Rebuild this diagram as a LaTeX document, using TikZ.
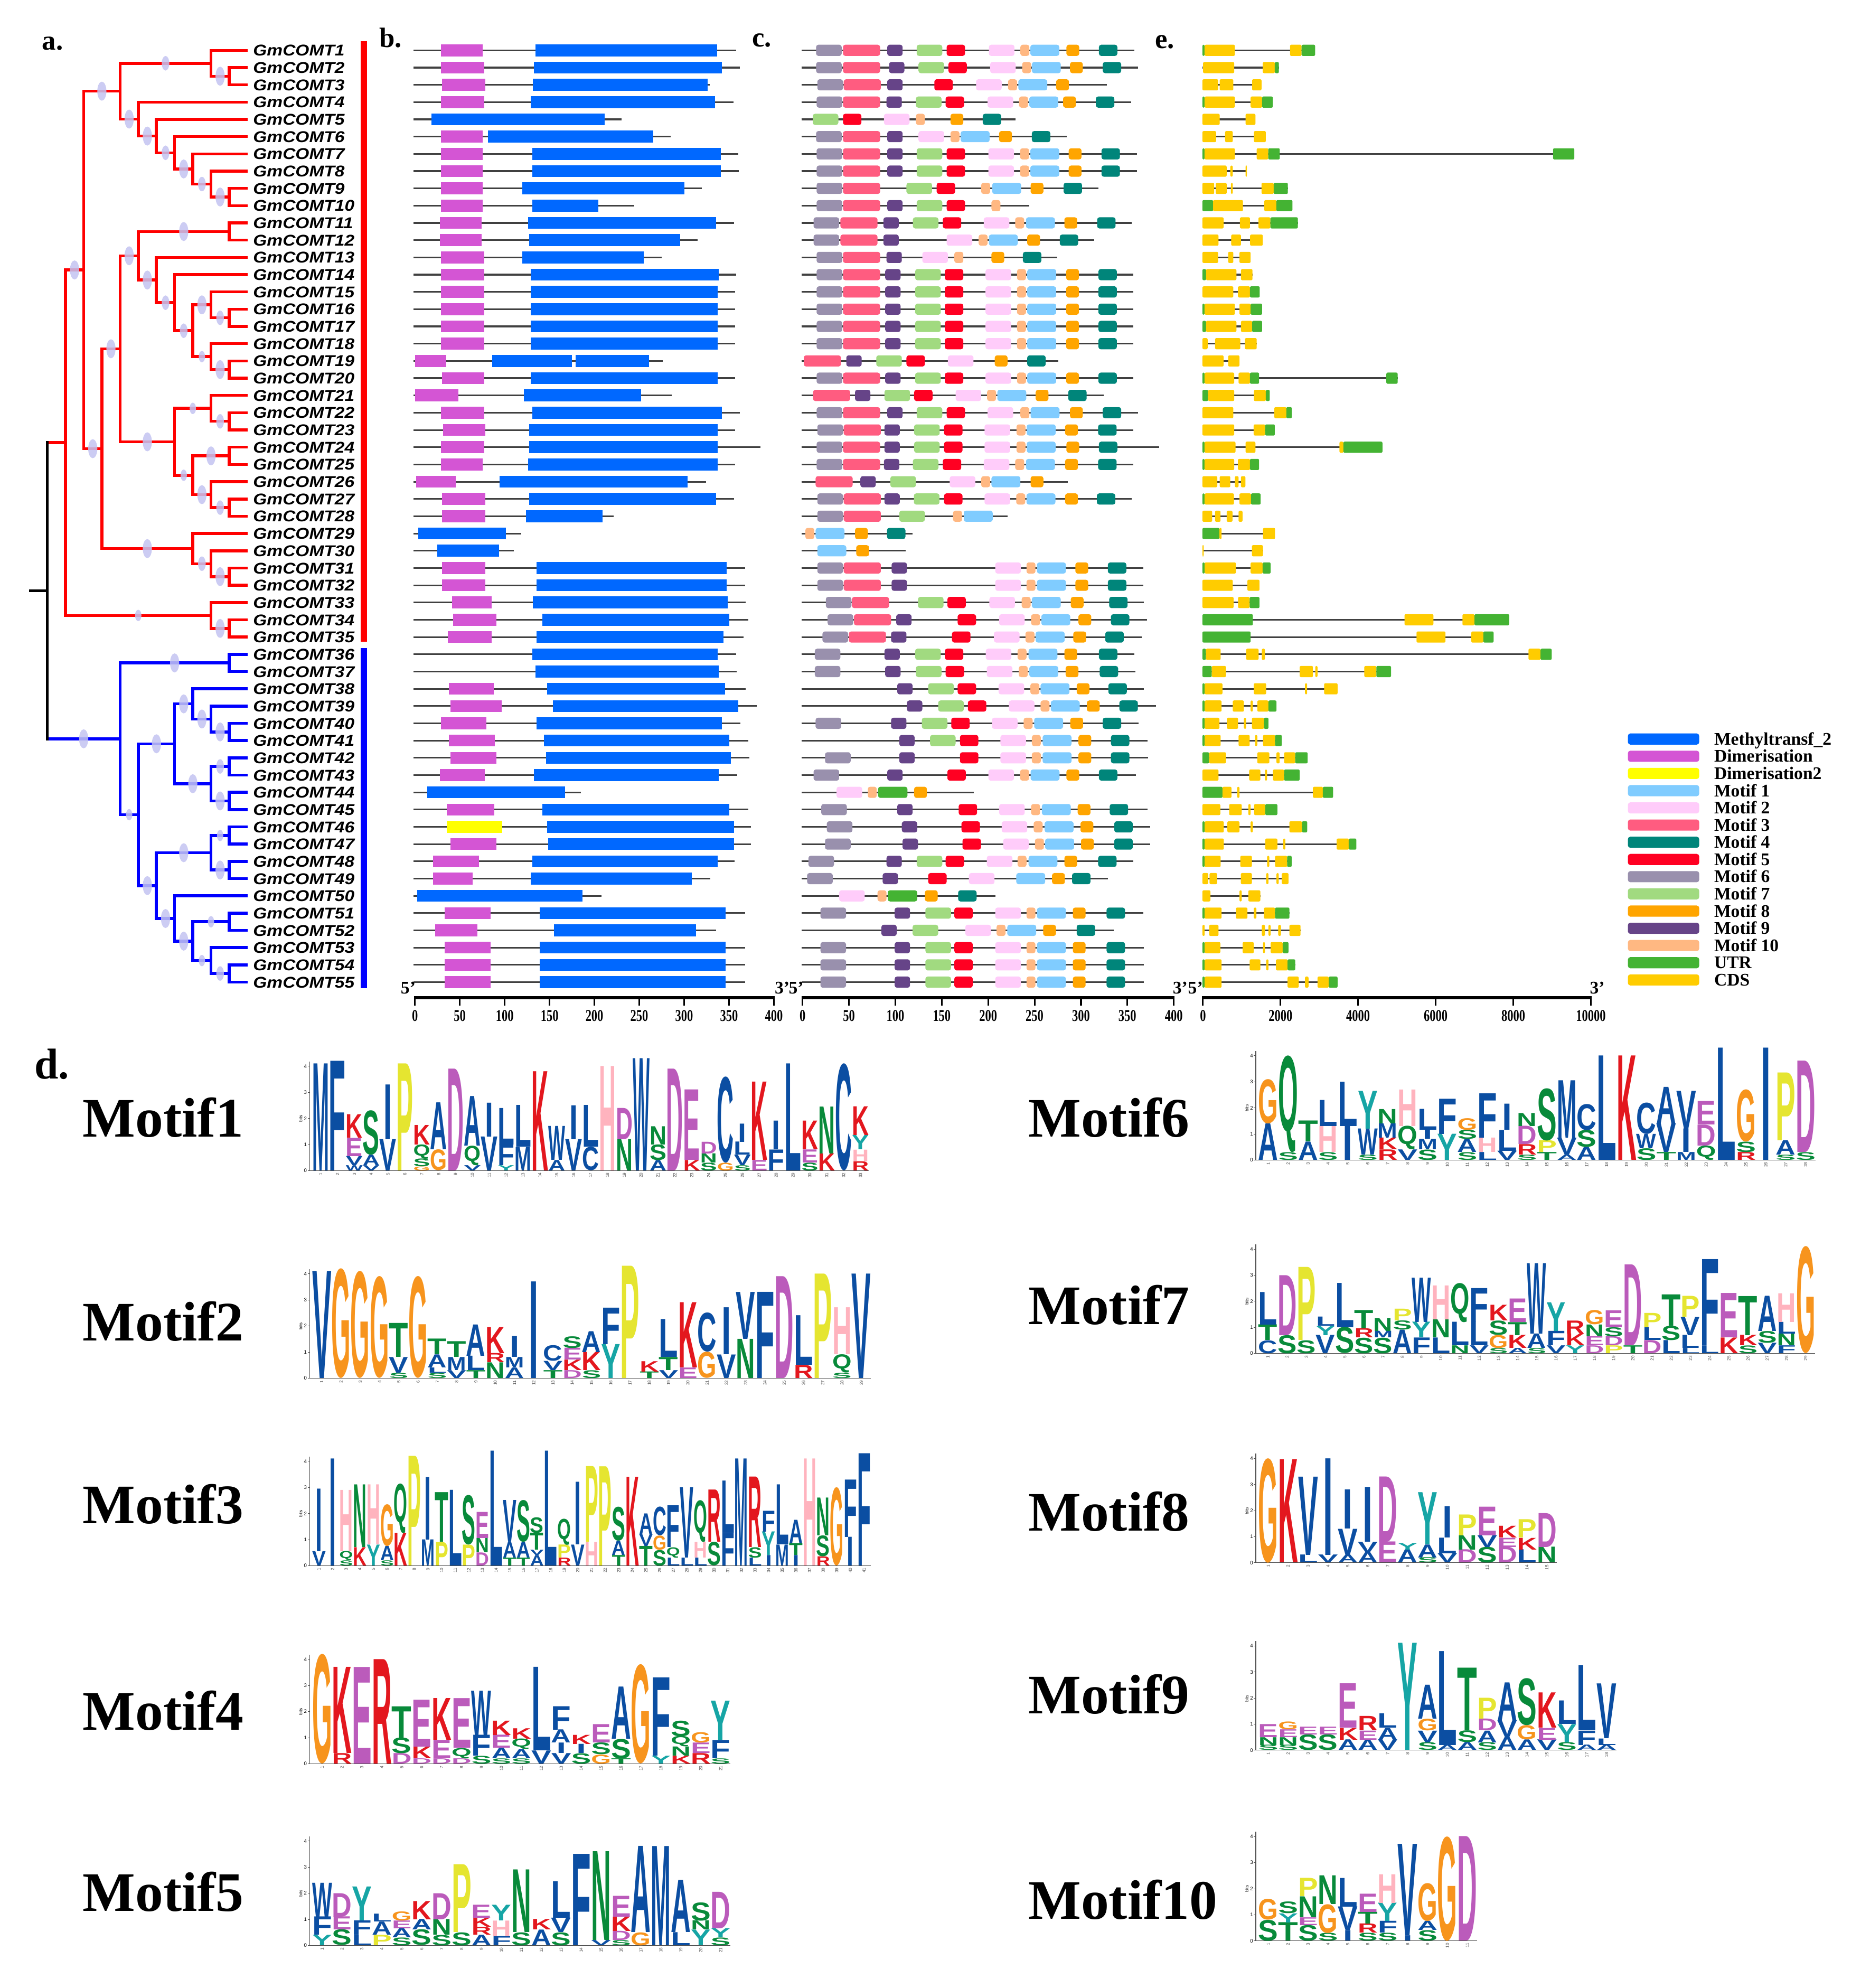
\documentclass[tikz,border=0pt]{standalone}
\usepackage{graphicx}
\usepackage{fontspec}
\setmainfont{Liberation Serif}
\newfontfamily\sansf{Liberation Sans}
\usetikzlibrary{calc,shapes.geometric}
\pgfdeclarelayer{fg}
\pgfsetlayers{main,fg}
\definecolor{mt}{HTML}{0068FF}
\definecolor{dm}{HTML}{D455D4}
\definecolor{dt}{HTML}{FFFF00}
\definecolor{m1}{HTML}{80CCFF}
\definecolor{m2}{HTML}{FFCCFA}
\definecolor{m3}{HTML}{FF5C80}
\definecolor{m4}{HTML}{00857A}
\definecolor{m5}{HTML}{FF0022}
\definecolor{m6}{HTML}{9990AD}
\definecolor{m7}{HTML}{A1DA80}
\definecolor{m8}{HTML}{FFA500}
\definecolor{m9}{HTML}{664488}
\definecolor{m10}{HTML}{FFB882}
\definecolor{dg}{HTML}{44B333}
\definecolor{g}{HTML}{44B333}
\definecolor{c}{HTML}{FFCC00}
\definecolor{lav}{HTML}{C4C4F2}
\definecolor{lgb}{HTML}{0B4EA2}
\definecolor{lgm}{HTML}{BB5BBB}
\definecolor{lgr}{HTML}{E3171E}
\definecolor{lgg}{HTML}{088A3A}
\definecolor{lgo}{HTML}{F7941D}
\definecolor{lgy}{HTML}{E5E530}
\definecolor{lgp}{HTML}{FFB3BE}
\definecolor{lgc}{HTML}{16A5A5}
\colorlet{lgA}{lgb}\colorlet{lgC}{lgb}\colorlet{lgF}{lgb}\colorlet{lgI}{lgb}
\colorlet{lgL}{lgb}\colorlet{lgM}{lgb}\colorlet{lgV}{lgb}\colorlet{lgW}{lgb}
\colorlet{lgD}{lgm}\colorlet{lgE}{lgm}\colorlet{lgK}{lgr}\colorlet{lgR}{lgr}
\colorlet{lgN}{lgg}\colorlet{lgQ}{lgg}\colorlet{lgS}{lgg}\colorlet{lgT}{lgg}
\colorlet{lgG}{lgo}\colorlet{lgP}{lgy}\colorlet{lgH}{lgp}\colorlet{lgY}{lgc}
\def\lwI{0.5}
\expandafter\def\csname mwm1\endcsname{113}
\expandafter\def\csname mwm2\endcsname{100}
\expandafter\def\csname mwm3\endcsname{145}
\expandafter\def\csname mwm4\endcsname{72}
\expandafter\def\csname mwm5\endcsname{72}
\expandafter\def\csname mwm6\endcsname{100}
\expandafter\def\csname mwm7\endcsname{100}
\expandafter\def\csname mwm8\endcsname{50}
\expandafter\def\csname mwm9\endcsname{60}
\expandafter\def\csname mwm10\endcsname{35}
\expandafter\def\csname mwdg\endcsname{115}
\def\brc{red}
\newcommand\tn[6]{%
  \path (#3) -- (#5) coordinate[pos=0.5] (tmpm);
  \coordinate (#1) at (tmpm -| L#2);
  \draw[br,\brc] (#3) -- (#3 -| #1) -- (#5 -| #1) -- (#5);
  \begin{pgfonlayer}{fg}
  \ifnum#4>0\relax\node[bs#4] at ($(#3)!0.5!(#3 -| #1)$) {};\fi
  \ifnum#6>0\relax\node[bs#6] at ($(#5)!0.5!(#5 -| #1)$) {};\fi
  \end{pgfonlayer}
}
\newcommand\brow[3]{%
  \pgfmathsetmacro\yy{39.7+(#1-1)*13.61}
  \draw[bln] (163,\yy) -- (#2,\yy);
  \foreach \bs/\be/\bcl in {#3} {\fill[fill=\bcl] (\bs,\yy-4.7) rectangle (\be,\yy+4.7);}
}
\newcommand\crow[3]{%
  \pgfmathsetmacro\yy{39.7+(#1-1)*13.61}
  \draw[bln] (78,\yy) -- (#2,\yy);
  \foreach \cs/\mo in {#3} {\fill[fill=\mo,rounded corners=1.8pt] (\cs,\yy-4.4) rectangle ({\cs+\csname mw\mo\endcsname},\yy+4.4);}
}
\newcommand\erow[3]{%
  \pgfmathsetmacro\yy{39.7+(#1-1)*13.61}
  \draw[bln] (0,\yy) -- (#2,\yy);
  \foreach \es/\ee/\et in {#3} {\fill[fill=\et,rounded corners=1pt] (\es,\yy-4.4) rectangle (\ee,\yy+4.4);}
}
\newcommand\logo[4]{%
  \foreach \cc [count=\ci from 0] in {#4}{%
    \gdef\cum{0}%
    \foreach \lt/\lh in \cc {%
      \expandafter\ifx\csname lw\lt\endcsname\relax\def\lwf{1}\else\edef\lwf{\csname lw\lt\endcsname}\fi
      \pgfmathsetmacro\yb{#2-\cum*20.57}%
      \pgfmathsetmacro\hh{max(\lh*20.57,0.2)}%
      \pgfmathsetmacro\ww{#3*\lwf}%
      \pgfmathsetmacro\xb{#1+\ci*#3+(1-\lwf)*#3/2}%
      \node[inner sep=0pt,outer sep=0pt,anchor=south west] at (\xb,\yb) {\resizebox*{\ww pt}{\hh pt}{\sansf\bfseries\color{lg\lt}\lt}};%
      \pgfmathsetmacro\tmp{\cum+\lh}\global\let\cum\tmp
    }%
  }%
}
\newcommand\logoax[4]{%
  \draw[line width=0.5pt,black!70] (#1-2,#2) -- (#1-2,#2-86);
  \foreach \b in {0,...,4} {\draw[line width=0.4pt,black!70] (#1-2,#2-\b*20.57) -- ++(-1.5,0);
    \node[font=\sansf\fontsize{4}{4}\selectfont,anchor=east,inner sep=0.4pt] at (#1-3.6,#2-\b*20.57) {\b};}
  \node[rotate=90,font=\sansf\fontsize{3.5}{3.5}\selectfont,inner sep=0pt] at (#1-9,#2-41) {bits};
  \draw[line width=0.4pt,black!70] (#1-2,#2) -- (#1+#4*#3,#2);
  \foreach \j in {1,...,#4} {\node[rotate=90,anchor=east,font=\sansf\fontsize{3.5}{3.5}\selectfont,inner sep=0.3pt,black!70] at ({#1+(\j-0.5)*#3},#2+1.2) {\j};}
}
\begin{document}
\begin{tikzpicture}[x=1pt,y=-1pt,
  br/.style={line width=2.3pt,line join=miter},
  bs1/.style={ellipse,fill=lav,fill opacity=0.85,draw=none,inner sep=0pt,minimum width=5pt,minimum height=9pt},
  bs2/.style={ellipse,fill=lav,fill opacity=0.85,draw=none,inner sep=0pt,minimum width=6pt,minimum height=11.5pt},
  bs3/.style={ellipse,fill=lav,fill opacity=0.85,draw=none,inner sep=0pt,minimum width=7.2pt,minimum height=15pt},
  lab/.style={anchor=base west,inner sep=0pt,font=\sansf\bfseries\itshape\fontsize{12.3}{13}\selectfont},
  bln/.style={line width=1.3pt,black!75},
  pl/.style={anchor=base west,inner sep=0pt,font=\bfseries\fontsize{22}{22}\selectfont},
  ml/.style={anchor=base west,inner sep=0pt,font=\bfseries\fontsize{44}{44}\selectfont},
  tk/.style={inner sep=0pt,font=\bfseries\fontsize{13}{13}\selectfont},
  pe/.style={inner sep=0pt,font=\bfseries\fontsize{14}{14}\selectfont},
  leg/.style={anchor=base west,inner sep=0pt,font=\bfseries\fontsize{14}{14}\selectfont}]
\useasboundingbox (0,0) rectangle (1468,1568);
\fill[white] (0,0) rectangle (1468,1568);
% ---------- panel letters ----------
\node[pl] (la) at (33,39.4) {a.};
\node[pl] (lb) at (299,37.4) {b.};
\node[pl] (lc) at (593,37) {c.};
\node[pl] (le) at (911,38.1) {e.};
\node[anchor=base west,inner sep=0pt,font=\bfseries\fontsize{34}{34}\selectfont] (ld) at (27,851) {d.};
% ---------- tree ----------
\foreach \k in {0,...,11} {\coordinate (L\k) at ({37.3+14.35*\k},0);}
\foreach \i in {1,...,55} {\coordinate (t\i) at (195.2,{39.7+(\i-1)*13.61});
  \node[lab] (g\i) at (199.5,{39.7+(\i-1)*13.61+4.4}) {\scalebox{1.135}[1]{GmCOMT\i}};}
\def\brc{red}
\tn{n23}{10}{t2}{0}{t3}{0}
\tn{nA}{9}{t1}{0}{n23}{3}
\tn{n910}{10}{t9}{0}{t10}{0}
\tn{nG}{9}{t8}{0}{n910}{3}
\tn{nF}{8}{t7}{0}{nG}{2}
\tn{nE}{7}{t6}{0}{nF}{3}
\tn{nD}{6}{t5}{0}{nE}{2}
\tn{nC}{5}{t4}{0}{nD}{3}
\tn{nB}{4}{nA}{2}{nC}{3}
\tn{n1112}{10}{t11}{0}{t12}{0}
\tn{n1617}{10}{t16}{0}{t17}{0}
\tn{nY}{9}{t15}{0}{n1617}{2}
\tn{n1920}{10}{t19}{0}{t20}{0}
\tn{nZ}{9}{t18}{0}{n1920}{3}
\tn{nX}{8}{nY}{3}{nZ}{1}
\tn{nW}{7}{t14}{0}{nX}{2}
\tn{nV}{6}{t13}{0}{nW}{2}
\tn{nS}{5}{n1112}{3}{nV}{3}
\tn{n2223}{10}{t22}{0}{t23}{0}
\tn{nAA}{9}{t21}{0}{n2223}{2}
\tn{n2425}{10}{t24}{0}{t25}{0}
\tn{n2728}{10}{t27}{0}{t28}{0}
\tn{nCC}{9}{t26}{0}{n2728}{2}
\tn{nBB}{8}{n2425}{3}{nCC}{3}
\tn{nU}{7}{nAA}{1}{nBB}{1}
\tn{nQ}{4}{nS}{3}{nU}{3}
\tn{n3132}{10}{t31}{0}{t32}{0}
\tn{nDD}{9}{t30}{0}{n3132}{3}
\tn{nR}{8}{t29}{0}{nDD}{2}
\tn{nP}{3}{nQ}{3}{nR}{3}
\tn{nI}{2}{nB}{3}{nP}{3}
\tn{n3435}{10}{t34}{0}{t35}{0}
\tn{nEE}{9}{t33}{0}{n3435}{3}
\tn{nK}{1}{nI}{3}{nEE}{1}
\def\brc{blue}
\tn{n3637}{10}{t36}{0}{t37}{0}
\tn{n4041}{10}{t40}{0}{t41}{0}
\tn{nKK}{9}{t39}{0}{n4041}{3}
\tn{nII}{8}{t38}{0}{nKK}{3}
\tn{n4243}{10}{t42}{0}{t43}{0}
\tn{n4445}{10}{t44}{0}{t45}{0}
\tn{nJJ}{9}{n4243}{2}{n4445}{3}
\tn{nGG}{7}{nII}{3}{nJJ}{3}
\tn{n4647}{10}{t46}{0}{t47}{0}
\tn{n4849}{10}{t48}{0}{t49}{0}
\tn{nLL}{9}{n4647}{1}{n4849}{3}
\tn{n5152}{10}{t51}{0}{t52}{0}
\tn{n5455}{10}{t54}{0}{t55}{0}
\tn{nPP}{9}{t53}{0}{n5455}{2}
\tn{nNN}{8}{n5152}{1}{nPP}{1}
\tn{nMM}{7}{t50}{0}{nNN}{3}
\tn{nHH}{6}{nLL}{3}{nMM}{3}
\tn{nFF}{5}{nGG}{3}{nHH}{3}
\tn{nBL}{4}{n3637}{3}{nFF}{1}
\path (nK) -- (nBL) coordinate[pos=0.5] (tmpm);
\coordinate (root) at (tmpm -| L0);
\draw[br,red] (nK) -- (nK -| root);
\draw[br,blue] (nBL) -- (nBL -| root);
\draw[br,black,line cap=rect] (nK -| root) -- (nBL -| root);
\draw[br,black] (root) -- ++(-14.5,0);
\begin{pgfonlayer}{fg}\node[bs3] at ($(nBL)!0.5!(nBL -| root)$) {};\end{pgfonlayer}
\draw[red,line width=4.8pt] (287,32.3) -- (287,506);
\draw[blue,line width=4.8pt] (287,511) -- (287,779.5);
% ---------- panel b ----------
\begin{scope}[shift={(291.6,0)},x=0.2125pt]
\brow{1}{1360}{265/420/dm,615/1290/mt}
\brow{2}{1375}{265/425/dm,610/1308/mt}
\brow{3}{1262}{268/430/dm,605/1255/mt}
\brow{4}{1350}{265/425/dm,598/1282/mt}
\brow{5}{935}{230/873/mt}
\brow{6}{1118}{265/420/dm,440/1053/mt}
\brow{7}{1368}{265/420/dm,603/1303/mt}
\brow{8}{1370}{265/420/dm,603/1303/mt}
\brow{9}{1233}{265/420/dm,567/1168/mt}
\brow{10}{982}{265/420/dm,603/848/mt}
\brow{11}{1352}{260/415/dm,588/1287/mt}
\brow{12}{1218}{260/415/dm,593/1153/mt}
\brow{13}{1085}{265/425/dm,567/1018/mt}
\brow{14}{1360}{265/425/dm,598/1295/mt}
\brow{15}{1357}{265/425/dm,598/1292/mt}
\brow{16}{1357}{265/425/dm,598/1292/mt}
\brow{17}{1357}{265/425/dm,598/1292/mt}
\brow{18}{1357}{265/425/dm,598/1292/mt}
\brow{19}{1088}{168/285/dm,455/750/mt,765/1037/mt}
\brow{20}{1357}{268/425/dm,598/1292/mt}
\brow{21}{1122}{168/330/dm,572/1008/mt}
\brow{22}{1375}{265/425/dm,603/1308/mt}
\brow{23}{1357}{272/430/dm,593/1292/mt}
\brow{24}{1450}{265/425/dm,593/1292/mt}
\brow{25}{1357}{265/420/dm,588/1292/mt}
\brow{26}{1248}{172/320/dm,483/1180/mt}
\brow{27}{1352}{268/430/dm,593/1287/mt}
\brow{28}{905}{268/430/dm,580/865/mt}
\brow{29}{563}{180/505/mt}
\brow{30}{535}{250/480/mt}
\brow{31}{1393}{268/430/dm,620/1325/mt}
\brow{32}{1393}{268/430/dm,620/1325/mt}
\brow{33}{1395}{305/453/dm,605/1330/mt}
\brow{34}{1405}{310/470/dm,642/1335/mt}
\brow{35}{1388}{290/453/dm,620/1313/mt}
\brow{36}{1360}{603/1292/mt}
\brow{37}{1362}{615/1295/mt}
\brow{38}{1395}{295/460/dm,658/1320/mt}
\brow{39}{1437}{300/490/dm,680/1368/mt}
\brow{40}{1377}{265/433/dm,620/1308/mt}
\brow{41}{1405}{295/465/dm,647/1335/mt}
\brow{42}{1410}{300/470/dm,655/1340/mt}
\brow{43}{1365}{260/427/dm,610/1295/mt}
\brow{44}{785}{213/725/mt}
\brow{45}{1405}{287/462/dm,642/1335/mt}
\brow{46}{1415}{287/492/dt,658/1352/mt}
\brow{47}{1415}{300/470/dm,662/1352/mt}
\brow{48}{1355}{235/405/dm,603/1292/mt}
\brow{49}{1265}{235/383/dm,598/1195/mt}
\brow{50}{860}{177/790/mt}
\brow{51}{1393}{278/448/dm,632/1322/mt}
\brow{52}{1287}{243/400/dm,685/1212/mt}
\brow{53}{1393}{278/448/dm,632/1322/mt}
\brow{54}{1393}{278/448/dm,632/1322/mt}
\brow{55}{1393}{278/448/dm,632/1322/mt}
\end{scope}
% ---------- panel c ----------
\begin{scope}[shift={(616.5,0)},x=0.2019pt]
\crow{1}{1378}{135/m6,240/m3,413/m9,528/m7,645/m5,810/m2,933/m10,972/m1,1113/m8,1240/m4}
\crow{2}{1392}{135/m6,240/m3,420/m9,535/m7,652/m5,815/m2,940/m10,978/m1,1127/m8,1255/m4}
\crow{3}{1272}{140/m6,243/m3,413/m9,597/m5,760/m2,885/m10,925/m1,1073/m8}
\crow{4}{1365}{137/m6,240/m3,410/m9,525/m7,641/m5,805/m2,928/m10,968/m1,1100/m8,1228/m4}
\crow{5}{915}{122/m7,240/m5,400/m2,525/m10,660/m8,786/m4}
\crow{6}{1115}{135/m6,240/m3,413/m9,535/m2,660/m10,700/m1,850/m8,978/m4}
\crow{7}{1388}{137/m6,240/m3,413/m9,528/m7,645/m5,808/m2,932/m10,972/m1,1122/m8,1250/m4}
\crow{8}{1388}{137/m6,240/m3,413/m9,528/m7,645/m5,808/m2,932/m10,972/m1,1122/m8,1250/m4}
\crow{9}{1238}{137/m6,240/m3,488/m7,606/m5,780/m10,823/m1,973/m8,1102/m4}
\crow{10}{968}{137/m6,240/m3,413/m9,528/m7,645/m5,820/m10}
\crow{11}{1368}{125/m6,230/m3,398/m9,513/m7,630/m5,790/m2,913/m10,955/m1,1105/m8,1233/m4}
\crow{12}{1222}{125/m6,230/m3,398/m9,645/m2,770/m10,810/m1,960/m8,1087/m4}
\crow{13}{1078}{137/m6,240/m3,410/m9,550/m2,675/m10,820/m8,943/m4}
\crow{14}{1375}{137/m6,240/m3,405/m9,522/m7,638/m5,797/m2,920/m10,960/m1,1112/m8,1238/m4}
\crow{15}{1375}{137/m6,240/m3,405/m9,522/m7,638/m5,797/m2,920/m10,960/m1,1112/m8,1238/m4}
\crow{16}{1375}{137/m6,240/m3,405/m9,522/m7,638/m5,797/m2,920/m10,960/m1,1112/m8,1238/m4}
\crow{17}{1375}{137/m6,240/m3,405/m9,522/m7,638/m5,797/m2,920/m10,960/m1,1112/m8,1238/m4}
\crow{18}{1375}{137/m6,240/m3,405/m9,522/m7,638/m5,797/m2,920/m10,960/m1,1112/m8,1238/m4}
\crow{19}{1082}{87/m3,253/m9,370/m7,488/m5,650/m2,833/m8,960/m4}
\crow{20}{1375}{137/m6,240/m3,405/m9,522/m7,638/m5,797/m2,920/m10,960/m1,1112/m8,1238/m4}
\crow{21}{1258}{123/m3,287/m9,402/m7,518/m5,680/m2,803/m10,843/m1,993/m8,1120/m4}
\crow{22}{1392}{137/m6,240/m3,413/m9,528/m7,645/m5,805/m2,933/m10,973/m1,1127/m8,1255/m4}
\crow{23}{1375}{140/m6,243/m3,402/m9,518/m7,635/m5,793/m2,918/m10,958/m1,1108/m8,1237/m4}
\crow{24}{1475}{137/m6,240/m3,402/m9,518/m7,635/m5,793/m2,918/m10,958/m1,1113/m8,1240/m4}
\crow{25}{1375}{137/m6,240/m3,400/m9,513/m7,630/m5,790/m2,913/m10,955/m1,1108/m8,1237/m4}
\crow{26}{1118}{133/m3,308/m9,425/m7,657/m2,780/m10,820/m1,973/m8}
\crow{27}{1368}{140/m6,243/m3,402/m9,517/m7,635/m5,793/m2,917/m10,957/m1,1108/m8,1232/m4}
\crow{28}{883}{140/m6,243/m3,460/m7,670/m10,712/m1}
\crow{29}{512}{93/m10,133/m1,287/m8,412/m4}
\crow{30}{485}{140/m1,292/m8}
\crow{31}{1413}{140/m6,243/m3,430/m9,835/m2,957/m10,998/m1,1148/m8,1275/m4}
\crow{32}{1413}{140/m6,243/m3,430/m9,835/m2,957/m10,998/m1,1148/m8,1275/m4}
\crow{33}{1415}{173/m6,275/m3,533/m7,648/m5,812/m2,938/m10,978/m1,1130/m8,1280/m4}
\crow{34}{1428}{180/m6,283/m3,448/m9,688/m5,850/m2,975/m10,1015/m1,1160/m8,1287/m4}
\crow{35}{1407}{160/m6,263/m3,428/m9,666/m5,830/m2,953/m10,993/m1,1140/m8,1265/m4}
\crow{36}{1378}{130/m6,402/m9,522/m7,638/m5,798/m2,922/m10,965/m1,1105/m8,1240/m4}
\crow{37}{1382}{130/m6,405/m9,525/m7,641/m5,802/m2,927/m10,968/m1,1110/m8,1243/m4}
\crow{38}{1415}{452/m9,573/m7,688/m5,848/m2,972/m10,1012/m1,1153/m8,1277/m4}
\crow{39}{1462}{490/m9,612/m7,728/m5,888/m2,1012/m10,1052/m1,1193/m8,1320/m4}
\crow{40}{1395}{133/m6,428/m9,548/m7,663/m5,822/m2,946/m10,987/m1,1128/m8,1255/m4}
\crow{41}{1430}{460/m9,580/m7,697/m5,855/m2,978/m10,1020/m1,1160/m8,1287/m4}
\crow{42}{1432}{170/m6,460/m9,697/m5,855/m2,978/m10,1020/m1,1160/m8,1287/m4}
\crow{43}{1385}{125/m6,413/m9,648/m5,808/m2,932/m10,973/m1,1113/m8,1240/m4}
\crow{44}{752}{215/m2,337/m10,377/dg,518/m8}
\crow{45}{1430}{155/m6,452/m9,692/m5,850/m2,975/m10,1017/m1,1157/m8,1282/m4}
\crow{46}{1440}{177/m6,470/m9,703/m5,860/m2,985/m10,1028/m1,1168/m8,1300/m4}
\crow{47}{1440}{170/m6,473/m9,707/m5,866/m2,990/m10,1030/m1,1170/m8,1300/m4}
\crow{48}{1375}{105/m6,410/m9,528/m7,641/m5,802/m2,922/m10,965/m1,1105/m8,1237/m4}
\crow{49}{1275}{100/m6,395/m9,573/m5,732/m2,917/m1,1057/m8,1135/m4}
\crow{50}{835}{225/m2,375/m10,415/dg,560/m8,690/m4}
\crow{51}{1413}{152/m6,442/m9,562/m7,675/m5,835/m2,957/m10,998/m1,1138/m8,1270/m4}
\crow{52}{1297}{390/m9,512/m7,718/m2,840/m10,882/m1,1022/m8,1153/m4}
\crow{53}{1415}{152/m6,442/m9,562/m7,675/m5,835/m2,957/m10,998/m1,1138/m8,1270/m4}
\crow{54}{1415}{152/m6,442/m9,562/m7,675/m5,835/m2,957/m10,998/m1,1138/m8,1270/m4}
\crow{55}{1415}{152/m6,442/m9,562/m7,675/m5,835/m2,957/m10,998/m1,1138/m8,1270/m4}
\end{scope}
% ---------- panel e ----------
\begin{scope}[shift={(948.5,0)}]
\erow{1}{88.9}{0/1.7/g,1.7/25.6/c,69.1/78.2/c,78.2/88.9/g}
\erow{2}{60.3}{0.5/25.1/c,47.6/57.1/c,57.1/60.3/g}
\erow{3}{46.6}{0/12.4/c,13.6/24.4/c,39.2/46.6/c}
\erow{4}{55.5}{0/1.7/g,1.7/25.6/c,38/47.1/c,47.1/55.5/g}
\erow{5}{41.8}{0/13.6/c,34/41.8/c}
\erow{6}{50}{0/10.8/c,17.9/23.9/c,40.6/50/c}
\erow{7}{293.4}{0/1.7/g,1.7/25.6/c,42.8/51.9/c,51.9/61/g,276.6/293.4/g}
\erow{8}{35.1}{0/19.1/c,22/23.9/c,34/35.1/c}
\erow{9}{67.4}{0/9.3/c,10.5/19.1/c,22.5/23.9/c,46.6/56.2/c,56.2/67.4/g}
\erow{10}{71}{0/8.4/g,8.4/32/c,48.8/58.3/c,58.3/71/g}
\erow{11}{75.3}{0/16.7/c,29.6/37.5/c,44.2/53.6/c,53.6/75.3/g}
\erow{12}{47.6}{0/12.7/c,22.7/30.4/c,37.6/47.6/c}
\erow{13}{38}{0/12.4/c,20.3/24.4/c,29.2/38/c}
\erow{14}{39.5}{0/2.9/g,2.9/26.8/c,30.4/39.5/c}
\erow{15}{45.2}{0/24.4/c,28/37.5/c,37.5/45.2/g}
\erow{16}{47.1}{0/1.7/g,1.7/25.6/c,29.2/38/c,38/47.1/g}
\erow{17}{47.1}{0/2.9/g,2.9/26.8/c,30.4/39.2/c,39.2/47.1/g}
\erow{18}{42.8}{0/4.1/c,10/29.9/c,33.5/42.8/c}
\erow{19}{29.2}{0/16.7/c,20.3/29.2/c}
\erow{20}{154}{0/1.7/g,1.7/25.1/c,28.5/37.5/c,37.5/44.7/g,145.1/154/g}
\erow{21}{53.1}{0/4.5/g,4.5/25.1/c,40.6/50/c,50/53.1/g}
\erow{22}{70.5}{0/24.4/c,56.7/66.2/c,66.2/70.5/g}
\erow{23}{57.1}{0/25.1/c,40.4/49.5/c,49.5/57.1/g}
\erow{24}{142}{0/1.7/g,1.7/26.1/c,34/41.8/c,108.1/111.2/c,111.2/142/g}
\erow{25}{44.7}{0/1.7/g,1.7/25.1/c,28/37.5/c,37.5/44.7/g}
\erow{26}{33.9}{0/11.7/c,13.6/22/c,25.6/28.5/c,30.4/33.9/c}
\erow{27}{45.9}{0/1.7/g,1.7/24.9/c,29.2/38.3/c,38.3/45.9/g}
\erow{28}{31.6}{0/7.7/c,10/14.3/c,19.1/23.7/c,28.5/31.6/c}
\erow{29}{57.3}{0/13.4/g,13.4/15.1/c,47.8/57.3/c}
\erow{30}{47.8}{0/1/c,39/47.8/c}
\erow{31}{53.8}{0/1.8/g,1.8/26.4/c,38/47.5/c,47.5/53.8/g}
\erow{32}{45}{0/23.9/c,35.5/45/c}
\erow{33}{45}{0/24.6/c,28.1/37.3/c,37.3/45/g}
\erow{34}{242}{0/39.8/g,159.4/182.2/c,205.1/214.6/c,214.6/242/g}
\erow{35}{229.7}{0/38/g,168.9/191.7/c,212.1/221.6/c,221.6/229.7/g}
\erow{36}{275.5}{0/2.8/g,2.8/14.4/c,34.5/44.3/c,46.8/49.3/c,257.2/266.7/c,266.7/275.5/g}
\erow{37}{148.8}{0/7.4/g,7.4/18.6/c,76.7/87.2/c,89/90.8/c,127.7/137.2/c,137.2/148.8/g}
\erow{38}{106.6}{0/1.8/g,1.8/15.8/c,40.5/50.3/c,80.9/82.6/c,96/106.6/c}
\erow{39}{58.4}{0/1.8/g,1.8/15.1/c,23.9/32.7/c,38/39.8/c,43.3/52.1/c,52.1/58.4/g}
\erow{40}{52.1}{0/1.8/g,1.8/13.4/c,19.3/28.1/c,32.7/34.5/c,39/48.5/c,48.5/52.1/g}
\erow{41}{62.6}{0/1.8/g,1.8/14.4/c,28.5/37.3/c,41.5/43.3/c,47.8/57.3/c,57.3/62.6/g}
\erow{42}{83}{0/5.3/g,5.3/18.6/c,43.3/52.8/c,58.4/60.9/c,64.4/73.2/c,73.2/83/g}
\erow{43}{76.7}{0/12.7/c,36.9/45.7/c,49.3/51/c,55.6/64.4/c,64.4/76.7/g}
\erow{44}{103.1}{0/15.8/g,15.8/22.9/c,27.4/29.2/c,87.2/95/c,95/103.1/g}
\erow{45}{59.1}{0/14.1/c,21.1/31/c,36.2/38/c,40.8/49.6/c,49.6/59.1/g}
\erow{46}{82.7}{0/1.8/g,1.8/16.9/c,19.7/29.2/c,38/39.8/c,68.6/78.5/c,78.5/82.7/g}
\erow{47}{121.4}{0/1.8/g,1.8/16.9/c,49.6/59.1/c,63.7/65.4/c,105.9/115.4/c,115.4/121.4/g}
\erow{48}{70.4}{0/1.8/g,1.8/14.4/c,29.9/39/c,51/52.8/c,57.3/66.8/c,66.8/70.4/g}
\erow{49}{67.9}{0/4.6/c,5.6/11.6/c,30.3/39/c,50.3/52.1/c,58.4/60.2/c,62.6/67.9/c}
\erow{50}{45.7}{0/6.3/c,29.2/31/c,36.2/45.7/c}
\erow{51}{68.6}{0/1.8/g,1.8/15.1/c,26.4/35.5/c,40.5/42.6/c,48.5/57.3/c,57.3/68.6/g}
\erow{52}{77.4}{0/1.8/c,5.3/12.7/c,46.8/49.3/c,52.1/53.8/c,59.8/61.9/c,68.6/77.4/c}
\erow{53}{67.9}{0/1.8/g,1.8/14.1/c,31.7/40.5/c,47.8/49.3/c,53.8/63.3/c,63.3/67.9/g}
\erow{54}{73.2}{0/1.8/g,1.8/15.1/c,37.3/45.7/c,50.3/52.1/c,58/67.2/c,67.2/73.2/g}
\erow{55}{106.6}{0/1.8/g,1.8/15.1/c,67.2/76/c,80.9/83.7/c,90.8/99.6/c,99.6/106.6/g}
\end{scope}
% ---------- legend ----------
\foreach \cl/\tx [count=\k from 0] in {mt/Methyltransf\_2,dm/Dimerisation,dt/Dimerisation2,m1/Motif 1,m2/Motif 2,m3/Motif 3,m4/Motif 4,m5/Motif 5,m6/Motif 6,m7/Motif 7,m8/Motif 8,m9/Motif 9,m10/Motif 10,g/UTR,c/CDS}{
  \fill[fill=\cl,rounded corners=2pt] (1284.1,{582.9+13.57*\k-4.4}) rectangle (1340.4,{582.9+13.57*\k+4.4});
  \node[leg] (lg\k) at (1352,{582.9+13.57*\k+4.6}) {\tx};
}
% ---------- axes ----------
\draw[line width=2.6pt] (326.5,787) -- (611,787);
\foreach \k/\v in {0/0,1/50,2/100,3/150,4/200,5/250,6/300,7/350,8/400}{
  \draw[line width=1.3pt] ({327.3+35.4*\k},787) -- ++(0,6);
  \node[tk] at ({327.3+35.4*\k},801) {\scalebox{0.72}[1]{\v}};}
\draw[line width=2.6pt] (632.3,787) -- (926.5,787);
\foreach \k/\v in {0/0,1/50,2/100,3/150,4/200,5/250,6/300,7/350,8/400}{
  \draw[line width=1.3pt] ({633.1+36.6*\k},787) -- ++(0,6);
  \node[tk] at ({633.1+36.6*\k},801) {\scalebox{0.72}[1]{\v}};}
\draw[line width=2.6pt] (948.1,787) -- (1255.6,787);
\foreach \k/\v in {0/0,1/2000,2/4000,3/6000,4/8000,5/10000}{
  \draw[line width=1.3pt] ({948.9+61.2*\k},787) -- ++(0,6);
  \node[tk] at ({948.9+61.2*\k},801) {\scalebox{0.72}[1]{\v}};}
\node[pe] at (322,779) {5'};
\node[pe] at (617,779) {3'};
\node[pe] at (628,779) {5'};
\node[pe] at (931,779) {3'};
\node[pe] at (943,779) {5'};
\node[pe] at (1260,779) {3'};
% ---------- motif labels ----------
\node[ml] (ml1) at (65,896.5) {Motif1};
\node[ml] (ml2) at (65,1057.5) {Motif2};
\node[ml] (ml3) at (65,1201.5) {Motif3};
\node[ml] (ml4) at (65,1364.5) {Motif4};
\node[ml] (ml5) at (65,1507.5) {Motif5};
\node[ml] (ml6) at (811,896.5) {Motif6};
\node[ml] (ml7) at (811,1044.5) {Motif7};
\node[ml] (ml8) at (811,1207.5) {Motif8};
\node[ml] (ml9) at (811,1351.5) {Motif9};
\node[ml] (ml10) at (811,1513.5) {Motif10};
% ---------- logos ----------
\logoax{246.2}{923.3}{13.31}{33}
\logo{246.2}{923.3}{13.31}{{M/4.1},{F/4.2},{W/0.2,V/0.35,E/0.7,K/0.9},{V/0.2,A/0.4,S/1.7},{V/1.2,I/2.1},{P/4.1},{G/0.15,S/0.3,Q/0.55,K/0.75},{G/0.8,A/1.8},{D/3.9},{V/0.2,Q/0.75,A/1.9},{V/1.3,I/1.3},{Y/0.2,F/0.8,L/1.4},{M/0.9,L/1.6},{K/3.8},{A/0.4,W/1.3},{V/1.2,I/1.3},{C/0.9,L/1.6},{H/4.0},{N/1.2,D/1.2},{W/4.3},{A/0.4,S/0.6,N/0.7},{D/3.9},{K/0.4,E/2.7},{S/0.3,N/0.35,D/0.45},{G/0.3,C/3.3},{S/0.2,V/0.4,L/0.5,I/0.7},{E/0.4,K/3.0},{F/0.8,I/1.1},{L/4.1},{S/0.3,E/0.5,K/1.1},{K/0.65,N/1.8},{C/4.1},{R/0.35,H/0.45,Y/0.55,K/1.1}}
\logoax{246.2}{1087}{15.2}{29}
\logo{246.2}{1087}{15.2}{{V/4.1},{G/4.2},{G/4.1},{G/3.9},{S/0.2,V/0.6,T/1.3},{G/3.9},{S/0.2,L/0.2,A/0.5,T/0.6},{V/0.3,M/0.5,T/0.6},{T/0.3,L/0.55,A/1.2},{N/0.6,R/0.35,K/1.0},{A/0.4,M/0.4,I/0.8},{I/3.7},{T/0.3,V/0.35,C/0.6},{D/0.3,K/0.4,E/0.45,S/0.45},{S/0.3,K/0.7,A/0.8},{Y/1.3,F/1.4},{P/4.3},{T/0.25,K/0.4},{V/0.3,T/0.5,L/1.45},{E/0.4,K/2.5},{G/1.0,C/1.5},{V/0.9,I/1.8},{N/1.5,V/1.8},{F/3.3},{D/3.9},{R/0.5,L/1.9},{P/4.0},{S/0.2,Q/0.7,H/1.8},{V/4.0}}
\logoax{246.2}{1234.9}{10.75}{41}
\logo{246.2}{1234.9}{10.75}{{V/0.55,I/2.4},{I/4.1},{S/0.2,Q/0.35,H/2.35},{K/0.7,N/2.4},{Y/0.8,H/2.3},{S/0.2,A/0.55,G/1.6},{K/1.25,Q/1.9},{P/4.2},{M/1.0,I/2.4},{P/0.9,T/1.9},{L/2.9},{P/0.8,S/1.9},{D/0.5,N/0.55,E/1.0},{L/4.4},{T/0.3,A/0.6,V/1.6},{T/0.3,A/0.6,S/1.6},{A/0.4,V/0.2,T/0.65,S/0.6},{L/4.4},{R/0.3,P/0.5,Q/1.0},{V/0.8,I/2.4},{H/0.9,P/2.9},{P/3.8},{T/0.4,A/0.55,S/1.3},{K/3.4},{T/0.75,V/0.45,A/0.8},{S/0.6,G/0.55,C/1.1},{L/0.3,Q/0.4,F/1.6},{L/0.3,V/2.7},{L/0.3,H/0.6,Q/1.6},{S/0.9,R/2.0},{F/1.25,L/2.0},{M/4.1},{L/0.3,S/0.4,R/2.7},{I/0.4,Y/0.9,F/0.8},{M/0.8,L/2.3},{I/0.4,T/0.45,A/0.9},{H/4.1},{R/0.35,S/0.8,N/1.45},{G/3.0},{I/1.1,F/2.2},{F/4.3}}
\logoax{246.2}{1391.1}{15.72}{21}
\logo{246.2}{1391.1}{15.72}{{G/4.2},{R/0.4,K/3.3},{E/3.7},{R/4.0},{D/0.4,S/0.6,T/1.2},{D/0.2,K/0.45,E/1.8},{D/0.2,E/0.7,K/1.6},{D/0.2,Q/0.4,E/1.9},{S/0.3,F/0.8,W/1.7},{S/0.2,A/0.4,E/0.5,K/0.55},{S/0.2,A/0.35,Q/0.4,K/0.4},{V/0.5,L/3.2},{V/0.4,I/0.4,A/0.5,F/0.9},{S/0.4,I/0.35,K/0.35},{G/0.35,S/0.45,E/0.7},{T/0.2,S/0.75,A/2.0},{G/3.8},{Y/0.3,F/3.0},{K/0.3,N/0.35,Q/0.4,S/0.6},{R/0.4,E/0.4,G/0.4},{S/0.2,F/0.7,Y/1.5}}
\logoax{246.2}{1534.4}{15.72}{21}
\logo{246.2}{1534.4}{15.72}{{Y/0.4,F/0.7,W/1.3},{S/0.6,E/0.5,D/0.9},{L/0.4,F/0.55,Y/1.3},{P/0.4,A/0.5,L/0.3},{S/0.3,A/0.35,E/0.3,G/0.35},{S/0.6,A/0.4,K/0.7},{S/0.4,N/0.6,D/1.0},{S/0.5,P/2.6},{A/0.4,R/0.3,K/0.35,E/0.5},{F/0.35,H/0.6,Y/0.6},{S/0.5,N/2.4},{A/0.6,K/0.4},{S/0.5,V/0.55,L/1.4},{F/3.5},{V/0.2,N/3.4},{S/0.2,D/0.35,K/0.55,E/0.8},{G/0.5,A/3.3},{M/3.8},{L/0.5,A/2.0},{Y/0.6,N/0.35,S/0.7},{S/0.3,Y/0.35,D/1.4}}
\logoax{992.6}{915}{15.7}{28}
\logo{992.6}{915}{15.7}{{A/1.4,G/1.7},{S/0.3,Q/3.7},{A/0.7,T/0.8},{S/0.3,H/1.0,L/1.0},{I/1.3,L/1.7},{S/0.2,W/1.0,Y/1.45},{R/0.4,K/0.45,M/0.55,N/0.55},{V/0.4,Q/0.9,H/1.4},{S/0.4,M/0.4,I/0.35,L/0.8},{Y/1.0,F/1.35},{S/0.3,A/0.5,S/0.35,G/0.45},{L/0.3,H/0.55,F/1.7},{V/0.35,L/0.8,I/1.0},{S/0.2,R/0.4,D/0.7,N/0.5},{T/0.3,P/0.45,S/2.0},{A/0.2,V/0.65,M/2.2},{A/0.5,S/0.65,C/1.0},{L/4.0},{K/4.0},{S/0.45,W/0.55,C/1.2},{T/0.3,V/1.1,A/1.4},{M/0.3,I/0.9,V/1.45},{Q/0.55,D/0.8,E/0.9},{L/4.3},{R/0.3,S/0.4,G/2.0},{I/4.3},{S/0.2,A/0.55,P/2.6},{S/0.3,D/3.5}}
\logoax{992.6}{1067.5}{15.15}{29}
\logo{992.6}{1067.5}{15.15}{{C/0.5,T/0.6,L/1.25},{S/0.7,D/2.3},{S/0.5,P/2.8},{V/0.7,Y/0.35,L/0.35},{S/1.0,L/1.7},{S/0.6,R/0.35,T/0.7},{S/0.6,M/0.25,N/0.5},{A/0.9,S/0.35,P/0.45},{F/0.6,Y/0.6,W/1.7},{L/0.6,N/0.7,H/1.3},{N/0.3,L/0.9,Q/1.5},{V/0.3,L/0.9,F/1.3},{S/0.2,G/0.5,S/0.55,K/0.6},{A/0.2,K/0.5,T/0.5,E/0.9},{S/0.2,A/0.55,W/2.7},{V/0.3,F/0.55,Y/1.1},{Y/0.3,K/0.45,R/0.5},{D/0.3,E/0.35,N/0.45,G/0.55},{P/0.3,D/0.35,S/0.35,E/0.65},{T/0.3,D/3.1},{D/0.5,L/0.5,P/0.55},{L/0.5,S/0.55,T/1.2},{L/0.2,L/0.5,V/0.7,P/0.8},{L/0.3,F/3.3},{K/0.6,E/1.7},{S/0.3,K/0.4,T/1.5},{V/0.4,S/0.45,A/1.35},{F/0.3,N/0.45,L/0.45,H/1.1},{G/4.1}}
\logoax{992.6}{1232.6}{15.7}{15}
\logo{992.6}{1232.6}{15.7}{{G/4.0},{K/3.95},{L/0.3,V/3.0},{V/0.3,I/3.7},{A/0.3,V/1.0,I/1.5},{A/0.4,V/0.4,I/2.1},{E/0.8,D/2.5},{A/0.5,Y/0.25},{S/0.2,A/0.5,Y/2.0},{V/0.35,L/0.6,I/1.2},{D/0.5,N/0.55,P/0.8},{S/0.6,V/0.45,E/1.1},{D/0.6,E/0.35,K/0.45},{L/0.5,K/0.45,P/0.7},{N/0.6,D/1.3}}
\logoax{992.6}{1380.5}{15.7}{18}
\logo{992.6}{1380.5}{15.7}{{S/0.2,N/0.3,E/0.5},{S/0.2,N/0.3,E/0.3,G/0.3},{S/0.6,E/0.3},{S/0.6,E/0.3},{A/0.4,K/0.45,E/1.7},{A/0.4,E/0.35,R/0.55},{V/0.4,A/0.45,L/0.55},{Y/4.1},{S/0.3,V/0.45,G/0.45,A/1.3},{A/0.2,L/3.6},{A/0.3,S/0.45,T/2.4},{S/0.3,A/0.45,D/0.45,P/0.8},{A/0.5,V/0.65,A/1.45},{A/0.4,G/0.55,S/1.8},{V/0.4,E/0.45,K/1.35},{S/0.3,Y/0.7,L/0.9},{A/0.2,F/0.55,L/2.5},{A/0.2,L/0.25,V/2.1}}
\logoax{992.6}{1530.8}{15.7}{11}
\logo{992.6}{1530.8}{15.7}{{S/0.8,G/0.8},{T/0.7,Y/0.35,S/0.45},{S/0.6,E/0.3,N/0.8,P/0.7},{S/0.3,G/1.1,N/1.1},{I/0.4,V/0.9,L/1.1},{S/0.3,R/0.35,T/0.45,E/0.7},{S/0.3,F/0.45,Y/0.7,H/1.1},{I/0.2,V/3.5},{S/0.4,A/0.35,G/1.45},{G/4.0},{D/4.0}}
\end{tikzpicture}
\end{document}
